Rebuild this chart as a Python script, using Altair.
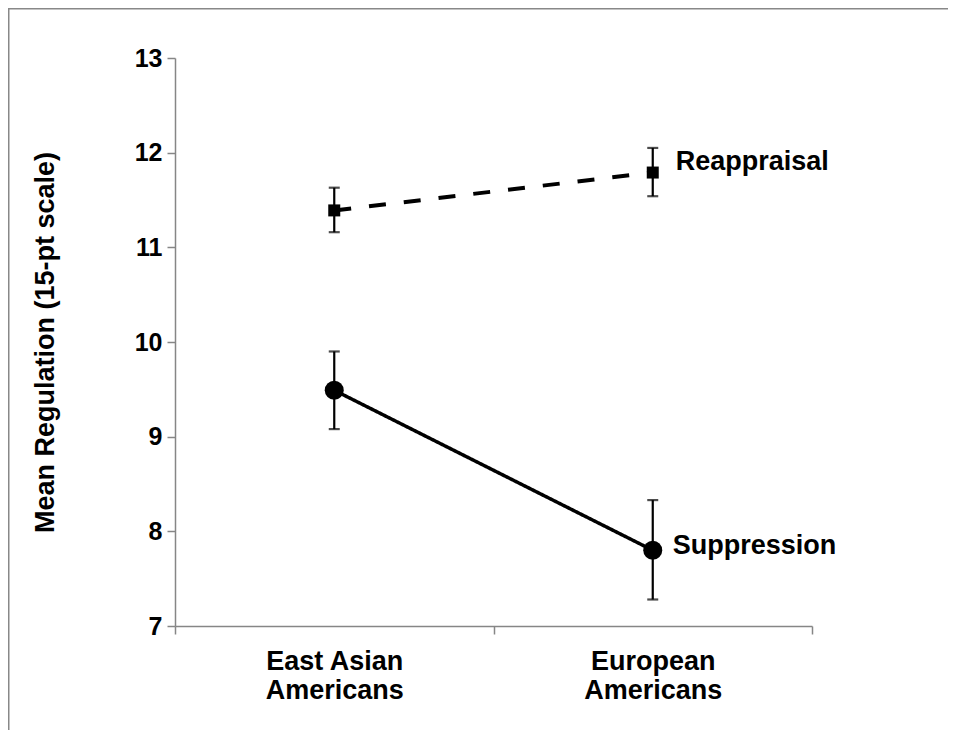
import altair as alt
import pandas as pd

groups = ["East Asian Americans", "European Americans"]
suppression_mean = [9.49, 7.80]
suppression_lo = [9.08, 7.28]
suppression_hi = [9.90, 8.33]
reappraisal_mean = [11.39, 11.79]
reappraisal_lo = [11.16, 11.54]
reappraisal_hi = [11.63, 12.05]
y_ticks = [7, 8, 9, 10, 11, 12, 13]

FONT = "Liberation Sans"

sup = pd.DataFrame({"group": groups, "mean": suppression_mean,
                    "lo": suppression_lo, "hi": suppression_hi,
                    "series": "Suppression"})
rea = pd.DataFrame({"group": groups, "mean": reappraisal_mean,
                    "lo": reappraisal_lo, "hi": reappraisal_hi,
                    "series": "Reappraisal"})

x_enc = alt.X("group:N", sort=groups,
              scale=alt.Scale(paddingInner=0, paddingOuter=0),
              axis=alt.Axis(title=None, labelAngle=0, tickBand="extent",
                            labelExpr="[slice(datum.label, 0, lastindexof(datum.label, ' ')), slice(datum.label, lastindexof(datum.label, ' ') + 1)]",
                            labelFont=FONT, labelFontSize=27, labelFontWeight="bold",
                            labelColor="black", labelLineHeight=29, labelPadding=14,
                            domainColor="#868686", tickColor="#868686",
                            tickSize=8, domainWidth=1.5, tickWidth=1.5))
y_scale = alt.Scale(domain=[7, 13], nice=False, zero=False)
y_enc = alt.Y("mean:Q", scale=y_scale,
              axis=alt.Axis(title="Mean Regulation (15-pt scale)", values=y_ticks,
                            format="d", grid=False, labelFont=FONT, labelFontSize=25,
                            labelFontWeight="bold", labelColor="black",
                            labelPadding=5, tickSize=8,
                            titleFont=FONT, titleFontSize=27, titleFontWeight="bold",
                            titleColor="black", titleX=-130, titleBaseline="middle",
                            domainColor="#868686", tickColor="#868686",
                            domainWidth=1.5, tickWidth=1.5))


def series_layers(df, dashed, shape, size):
    base = alt.Chart(df)
    line = base.mark_line(color="black", strokeWidth=4 if dashed else 3.5,
                          strokeDash=[17, 18] if dashed else [1, 0]).encode(x=x_enc, y=y_enc)
    err = base.mark_rule(color="black", strokeWidth=2.2).encode(
        x=alt.X("group:N", sort=groups), y=alt.Y("lo:Q", scale=y_scale), y2="hi:Q")
    cap_lo = base.mark_tick(color="black", orient="horizontal", size=11, thickness=2.2).encode(
        x=alt.X("group:N", sort=groups), y=alt.Y("lo:Q", scale=y_scale))
    cap_hi = base.mark_tick(color="black", orient="horizontal", size=11, thickness=2.2).encode(
        x=alt.X("group:N", sort=groups), y=alt.Y("hi:Q", scale=y_scale))
    pts = base.mark_point(shape=shape, filled=True, color="black", size=size, opacity=1).encode(
        x=alt.X("group:N", sort=groups), y=alt.Y("mean:Q", scale=y_scale))
    return [line, err, cap_lo, cap_hi, pts]


rea_label = alt.Chart(rea[rea["group"] == groups[1]]).mark_text(
    align="left", baseline="middle", dx=23, dy=-11, font=FONT, fontSize=27,
    fontWeight="bold", color="black").encode(
    x=alt.X("group:N", sort=groups), y=alt.Y("mean:Q", scale=y_scale), text="series:N")
sup_label = alt.Chart(sup[sup["group"] == groups[1]]).mark_text(
    align="left", baseline="middle", dx=20, dy=-4, font=FONT, fontSize=27,
    fontWeight="bold", color="black").encode(
    x=alt.X("group:N", sort=groups), y=alt.Y("mean:Q", scale=y_scale), text="series:N")

border_top = alt.Chart(sup.head(1)).mark_rule(color="#888888", strokeWidth=3).encode(
    x=alt.value(-170), x2=alt.value(800), y=alt.value(-50))
border_left = alt.Chart(sup.head(1)).mark_rule(color="#888888", strokeWidth=3).encode(
    x=alt.value(-167), y=alt.value(-50), y2=alt.value(700))

layers = series_layers(sup, False, "circle", 361) + series_layers(rea, True, "square", 144)
chart = alt.layer(border_top, border_left, *layers, rea_label, sup_label).properties(
    width=637, height=568,
    autosize=alt.AutoSizeParams(type="none"),
    padding={"left": 167, "top": 50, "right": 136, "bottom": 104},
    background="white",
).configure_view(stroke=None)

chart.save("out.html", embed_options={"renderer": "svg", "actions": False})
